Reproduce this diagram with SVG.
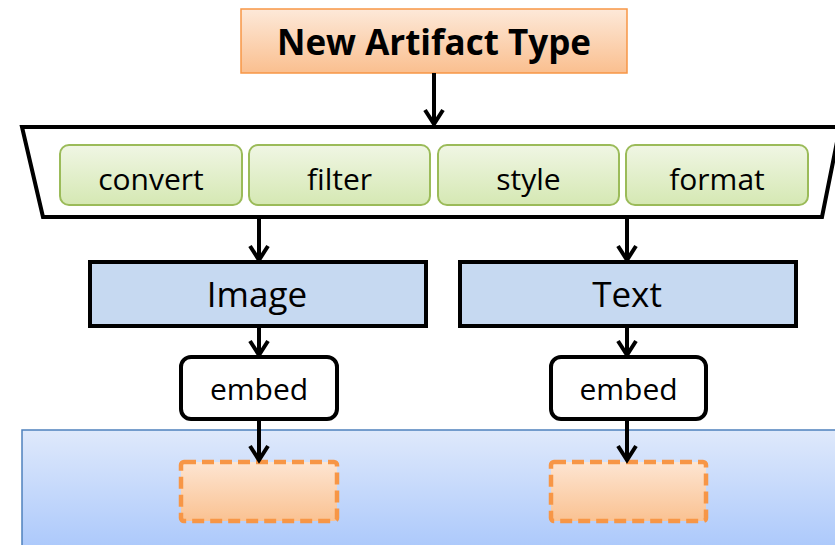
<svg xmlns="http://www.w3.org/2000/svg" width="835" height="545" viewBox="0 0 835 545">
<defs>
<linearGradient id="gOrange" x1="0" y1="0" x2="0" y2="1"><stop offset="0" stop-color="#fde9d9"/><stop offset="1" stop-color="#fabf8f"/></linearGradient>
<linearGradient id="gGreen" x1="0" y1="0" x2="0" y2="1"><stop offset="0" stop-color="#f0f6e4"/><stop offset="1" stop-color="#d5e8b3"/></linearGradient>
<linearGradient id="gBlue" x1="0" y1="0" x2="0" y2="1"><stop offset="0" stop-color="#dfe9fb"/><stop offset="1" stop-color="#a9c7fb"/></linearGradient>
<linearGradient id="gPeach" x1="0" y1="0" x2="0" y2="1"><stop offset="0" stop-color="#fde5d2"/><stop offset="1" stop-color="#fac292"/></linearGradient>
<marker id="arr" markerUnits="userSpaceOnUse" markerWidth="30" markerHeight="30" refX="0" refY="0" viewBox="-15 -15 30 30" orient="auto" overflow="visible">
<path d="M-14,-9 L0,0 L-14,9" fill="none" stroke="#000" stroke-width="4" stroke-linejoin="miter"/>
</marker>
</defs>
<style>
text{font-family:"Open Sans","Noto Sans","DejaVu Sans",sans-serif;fill:#000;text-anchor:middle}
.green{fill:url(#gGreen);stroke:#9bbb59;stroke-width:2}
.proc{fill:#c6d9f1;stroke:#000;stroke-width:4}
.embed{fill:#fff;stroke:#000;stroke-width:4}
.slot{fill:url(#gPeach);stroke:#f79646;stroke-width:4.5;stroke-dasharray:12 6}
.conn{stroke:#000;stroke-width:4;fill:none;marker-end:url(#arr)}
</style>
<g id="target-area"><rect x="22" y="430" width="820" height="125" fill="url(#gBlue)" stroke="#4f81bd" stroke-width="1.5"/></g>
<g id="new-artifact-type"><rect x="241" y="9" width="386" height="64" fill="url(#gOrange)" stroke="#f79646" stroke-width="1.5"/><text x="434" y="55" font-size="35" font-weight="bold">New Artifact Type</text></g>
<g id="pipeline"><path d="M22,127 L840,127 L822,217 L43,217 Z" fill="#fff" stroke="#000" stroke-width="4" stroke-linejoin="miter"/></g>
<g id="convert"><rect class="green" x="60" y="145" width="182" height="60" rx="9"/><text x="151" y="190" font-size="30">convert</text></g>
<g id="filter"><rect class="green" x="249" y="145" width="181" height="60" rx="9"/><text x="339.5" y="190" font-size="30">filter</text></g>
<g id="style"><rect class="green" x="438" y="145" width="181" height="60" rx="9"/><text x="528.5" y="190" font-size="30">style</text></g>
<g id="format"><rect class="green" x="626" y="145" width="182" height="60" rx="9"/><text x="717" y="190" font-size="30">format</text></g>
<g id="image"><rect class="proc" x="90" y="262" width="336" height="64"/><text x="257" y="307" font-size="35">Image</text></g>
<g id="text"><rect class="proc" x="460" y="262" width="336" height="64"/><text x="627" y="307" font-size="35">Text</text></g>
<g id="embed-image"><rect class="embed" x="181" y="357" width="156" height="62" rx="10"/><text x="259" y="400" font-size="30">embed</text></g>
<g id="embed-text"><rect class="embed" x="551" y="357" width="155" height="62" rx="10"/><text x="628.5" y="400" font-size="30">embed</text></g>
<g id="slot-image"><rect class="slot" x="181" y="462" width="156" height="59" rx="3"/></g>
<g id="slot-text"><rect class="slot" x="551" y="462" width="155" height="59" rx="3"/></g>
<g id="connectors">
<line class="conn" x1="434" y1="73" x2="434" y2="124"/>
<line class="conn" x1="259" y1="219" x2="259" y2="260"/>
<line class="conn" x1="627" y1="219" x2="627" y2="260"/>
<line class="conn" x1="259" y1="328" x2="259" y2="355"/>
<line class="conn" x1="627" y1="328" x2="627" y2="355"/>
<line class="conn" x1="259" y1="421" x2="259" y2="460"/>
<line class="conn" x1="627" y1="421" x2="627" y2="460"/>
</g>
</svg>
